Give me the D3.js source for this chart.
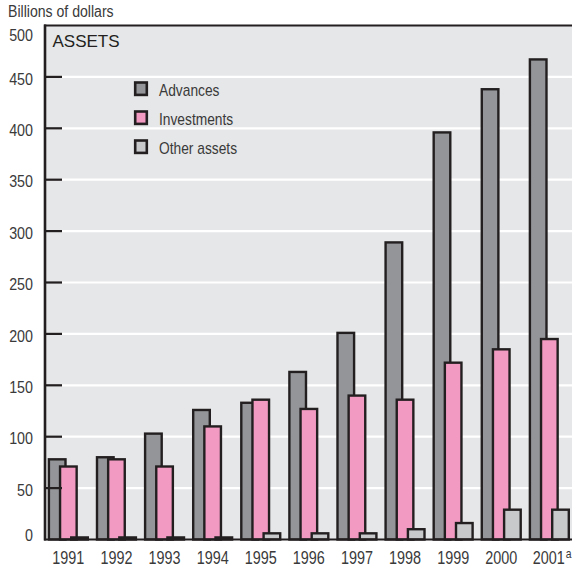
<!DOCTYPE html>
<html><head><meta charset="utf-8">
<script src="https://cdn.jsdelivr.net/npm/d3@7"></script>
<style>
body{margin:0;background:#fff;}
text{font-family:"Liberation Sans",Arial,sans-serif;}
</style></head>
<body>
<script>
const years = ["1991","1992","1993","1994","1995","1996","1997","1998","1999","2000","2001"];
const advances    = [78, 80, 103, 126, 133, 163, 201, 289, 396, 438, 467];
const investments = [71, 78, 71, 110, 136, 127, 140, 136, 172, 185, 195];
const otherAssets = [2, 2, 2, 2, 6, 6, 6, 10, 16, 29, 29];
const seriesNames = ["Advances","Investments","Other assets"];
const seriesColors = ["#939598","#f39ac2","#c8c9cb"];
const yTicks = [0,50,100,150,200,250,300,350,400,450,500];
const footnoteYear = "2001", footnoteMark = "a";

const W = 572, H = 569;
const svg = d3.select("body").append("svg").attr("width",W).attr("height",H);

const y = d3.scaleLinear().domain([0,500]).range([539.5,25.5]);
const x = d3.scaleBand().domain(years).range([47.7,570]).paddingInner(0.141).paddingOuter(0);
const barW = 19;
const sub = d3.scalePoint().domain(seriesNames).range([0, x.bandwidth()-barW]);
const sw = 2.4;
const ink = "#231f20";
const txt = "#3a3a3a";

function condense(sel, r){
  sel.each(function(){
    const L = this.getComputedTextLength();
    d3.select(this).attr("textLength", L*r).attr("lengthAdjust","spacingAndGlyphs");
  });
}

// plot background
svg.append("rect").attr("x",45).attr("y",y(500)).attr("width",W-45).attr("height",y(0)-y(500)).attr("fill","#e6e7e8");

// gridlines
svg.append("g").selectAll("line").data(yTicks.filter(d=>d>0&&d<500)).join("line")
  .attr("x1",62).attr("x2",W).attr("y1",d=>y(d)).attr("y2",d=>y(d))
  .attr("stroke","#fff").attr("stroke-width",2.2);

// bars
const series = [advances, investments, otherAssets];
series.forEach((vals,si)=>{
  svg.append("g").selectAll("rect").data(years).join("rect")
    .attr("x",(d)=>x(d)+sub(seriesNames[si])+sw/2)
    .attr("width",barW-sw)
    .attr("y",(d,i)=>y(vals[i]))
    .attr("height",(d,i)=>y(0)-y(vals[i]))
    .attr("fill",seriesColors[si]).attr("stroke",ink).attr("stroke-width",sw);
});

// y axis labels
const yAxis = d3.axisLeft(y).tickValues(yTicks).tickSize(0).tickPadding(0);
const gy = svg.append("g").call(yAxis);
gy.select(".domain").remove();
gy.selectAll("text").attr("x",33).attr("dy","0.36em").attr("font-size",17).attr("fill",txt)
  .style("font-family",'"Liberation Sans",Arial,sans-serif')
  .attr("y",d=> d===500 ? 8.5 : (d===0 ? -5 : 1));
condense(gy.selectAll("text"), 0.84);

// tick marks inward
svg.append("g").selectAll("line").data(yTicks.filter(d=>d>0&&d<500)).join("line")
  .attr("x1",45).attr("x2",62).attr("y1",d=>y(d)).attr("y2",d=>y(d))
  .attr("stroke",ink).attr("stroke-width",2.2);
// left axis, top border, bottom axis
svg.append("line").attr("x1",45).attr("x2",45).attr("y1",y(500)-1).attr("y2",y(0)+1).attr("stroke",ink).attr("stroke-width",2.6);
svg.append("line").attr("x1",44).attr("x2",W).attr("y1",y(500)).attr("y2",y(500)).attr("stroke",ink).attr("stroke-width",2.2);
svg.append("line").attr("x1",44).attr("x2",W).attr("y1",y(0)).attr("y2",y(0)).attr("stroke",ink).attr("stroke-width",2.2);

const xAxis = d3.axisBottom(x).tickSize(0).tickPadding(0);
const gx = svg.append("g").attr("transform",`translate(0,${y(0)})`).call(xAxis);
gx.select(".domain").remove();
gx.selectAll("text").attr("y",24.5).attr("dy",0).attr("font-size",18).attr("fill",txt)
  .style("font-family",'"Liberation Sans",Arial,sans-serif');
condense(gx.selectAll("text").filter(d=>d!==footnoteYear), 0.8);
// 2001 label with superscript footnote mark (condensed by a horizontal scale)
gx.selectAll("text").filter(d=>d===footnoteYear).each(function(d){
  const t = d3.select(this).text(null).attr("text-anchor","middle").attr("x",3.5)
    .attr("transform","scale(0.8,1)");
  t.append("tspan").text(d);
  t.append("tspan").attr("dx",1.5).attr("dy",-6).attr("font-size",13).text(footnoteMark);
});

// titles
const t1 = svg.append("text").attr("x",8).attr("y",17).attr("font-size",16).attr("fill",txt).text("Billions of dollars");
condense(t1, 0.88);
svg.append("text").attr("x",52.5).attr("y",46.7).attr("font-size",17).attr("fill",ink).text("ASSETS");

// legend
const lg = svg.append("g");
seriesNames.forEach((n,i)=>{
  const cy = 88.7 + i*29;
  lg.append("rect").attr("x",135.2).attr("y",cy-6.2).attr("width",11.6).attr("height",12.4)
    .attr("fill",seriesColors[i]).attr("stroke",ink).attr("stroke-width",2.6);
  const t = lg.append("text").attr("x",159).attr("y",cy+7.3).attr("font-size",17).attr("fill",txt).text(n);
  condense(t, 0.81);
});
</script>
</body></html>
